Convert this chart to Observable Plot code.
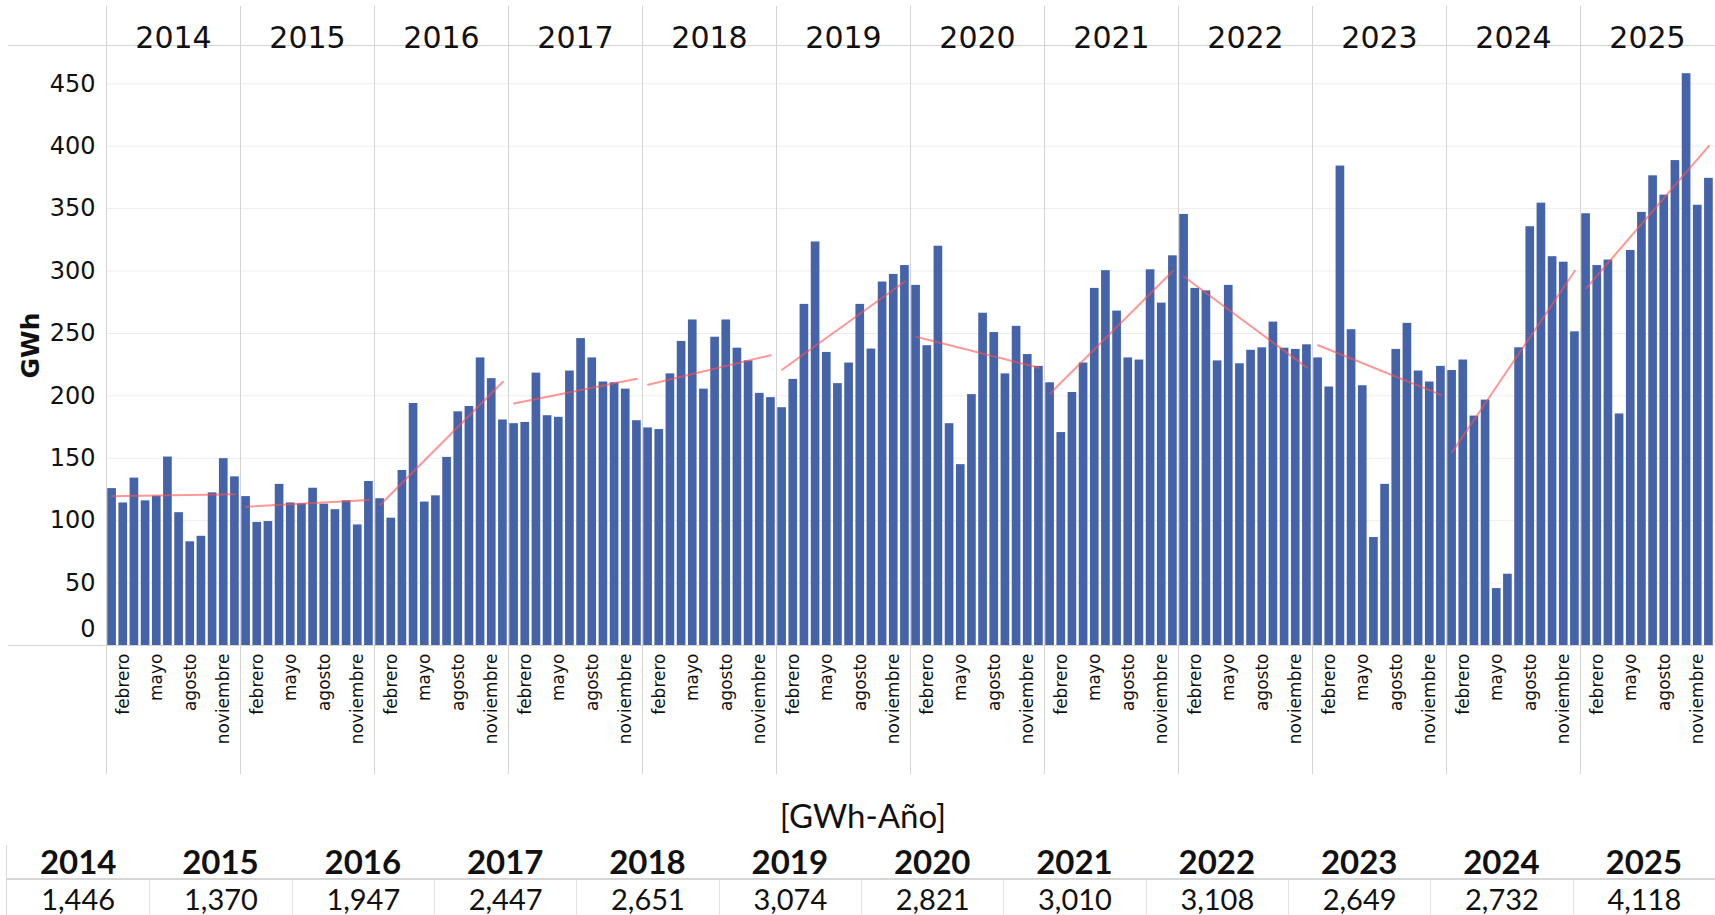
<!DOCTYPE html>
<html>
<head>
<meta charset="utf-8">
<script src="https://cdn.jsdelivr.net/npm/d3@7"></script>
<script src="https://cdn.jsdelivr.net/npm/@observablehq/plot@0.6"></script>
<style>
  html, body { margin: 0; padding: 0; background: #fff; }
  body { width: 1715px; height: 915px; overflow: hidden; position: relative; font-family: "DejaVu Sans", sans-serif; }
  #chart { position: absolute; left: 0; top: 0; }
  #ttl { position: absolute; left: 0; top: 795px; width: 1726px; height: 40px; line-height: 40px; text-align: center;
         font-family: Lato, "Open Sans", sans-serif; font-size: 33px; color: #111; }
  #tbl { position: absolute; left: 6px; top: 845px; width: 1708px; font-family: Lato, "Open Sans", sans-serif; color: #111;
         border-left: 1px solid #d6d6d6; border-right: 1px solid #d6d6d6; }
  .row { display: grid; grid-template-columns: repeat(12, 1fr); }
  .hdr { height: 33px; line-height: 33px; border-bottom: 2px solid #d6d6d6; }
  .hdr div { text-align: center; font-weight: 700; font-size: 33px; }
  .val { height: 38px; line-height: 38px; }
  .val div { text-align: center; font-size: 29px; border-left: 1px solid #e2e2e2; }
  .val div:first-child { border-left: none; }
</style>
</head>
<body>
<div id="chart"></div>
<div id="ttl">[GWh-Año]</div>
<div id="tbl"></div>
<script>
// ---- data ----
const years = [2014, 2015, 2016, 2017, 2018, 2019, 2020, 2021, 2022, 2023, 2024, 2025];
const monthNames = ["enero", "febrero", "marzo", "abril", "mayo", "junio", "julio", "agosto", "septiembre", "octubre", "noviembre", "diciembre"];
const tickMonths = [2, 5, 8, 11];
const yTicks = [50, 100, 150, 200, 250, 300, 350, 400, 450];
const yMax = 480.7;

const gwh2014 = [125.7, 114.2, 134.1, 115.9, 119.6, 151.0, 106.4, 83.1, 87.5, 122.3, 149.7, 135.1];
const gwh2015 = [119.3, 98.6, 99.3, 129.1, 114.2, 113.5, 126.0, 113.2, 108.8, 115.9, 96.6, 131.4];
const gwh2016 = [117.6, 102.0, 140.2, 193.9, 114.9, 119.9, 150.7, 187.2, 191.5, 230.4, 213.8, 180.7];
const gwh2017 = [177.7, 178.7, 218.2, 184.1, 182.8, 219.9, 245.9, 230.4, 211.1, 210.5, 205.4, 180.1];
const gwh2018 = [174.3, 173.0, 217.6, 243.6, 260.8, 205.4, 247.0, 260.8, 238.2, 228.0, 202.0, 198.6];
const gwh2019 = [190.5, 213.2, 273.3, 323.3, 234.8, 209.8, 226.3, 273.3, 237.5, 291.2, 297.3, 304.4];
const gwh2020 = [288.5, 240.2, 319.9, 177.7, 144.9, 201.0, 266.2, 250.7, 217.6, 255.7, 233.1, 223.6];
const gwh2021 = [210.5, 170.6, 202.7, 226.3, 286.1, 300.3, 267.9, 230.4, 228.7, 301.0, 274.3, 312.2];
const gwh2022 = [345.3, 286.1, 284.1, 228.0, 288.5, 225.7, 236.5, 238.5, 259.1, 238.2, 237.2, 240.9];
const gwh2023 = [230.4, 207.1, 384.1, 253.0, 208.1, 86.5, 129.1, 237.2, 258.1, 219.9, 211.1, 223.6];
const gwh2024 = [220.3, 228.7, 183.8, 196.6, 45.6, 57.1, 238.5, 335.5, 354.4, 311.5, 307.1, 251.3];
const gwh2025 = [345.9, 304.4, 308.8, 185.5, 316.5, 347.0, 376.3, 360.8, 388.5, 458.1, 352.7, 374.3];

const annualTotals = [1446, 1370, 1947, 2447, 2651, 3074, 2821, 3010, 3108, 2649, 2732, 4118];

// ---- build ----
const series = [gwh2014, gwh2015, gwh2016, gwh2017, gwh2018, gwh2019, gwh2020, gwh2021, gwh2022, gwh2023, gwh2024, gwh2025];
const data = years.flatMap((yr, i) => series[i].map((v, j) => ({year: yr, m: j + 1, v})));
const firstFacet = [{year: years[0], top: yMax, base: 0}];
const facetLabels = years.map(yr => ({year: yr}));

const gray = "#d4d4d4";

const chart = Plot.plot({
  width: 1715,
  height: 775,
  marginLeft: 104,
  marginRight: 0,
  marginTop: 45,
  marginBottom: 130,
  style: {fontFamily: "DejaVu Sans, sans-serif", color: "#111", background: "white", overflow: "visible"},
  fx: {domain: years, padding: 0, axis: null},
  x: {domain: [0.5, 12.5], axis: null},
  y: {domain: [0, yMax], axis: null},
  marks: [
    Plot.gridY(yTicks, {stroke: "#ededed", strokeOpacity: 1}),
    Plot.frame({anchor: "left", stroke: gray, insetTop: -39, insetBottom: -128}),
    Plot.frame({anchor: "top", stroke: gray}),
    Plot.ruleY(firstFacet, {fx: "year", y: "top", stroke: gray, insetLeft: -98}),
    Plot.rectY(data, {
      fx: "year",
      x1: d => d.m - 0.5,
      x2: d => d.m + 0.5,
      y: "v",
      insetLeft: 1.25,
      insetRight: 1.25,
      fill: "#4563a8"
    }),
    Plot.linearRegressionY(data, {fx: "year", x: "m", y: "v", ci: 0, stroke: "#ff5252", strokeOpacity: 0.6, strokeWidth: 2}),
    Plot.ruleY([0], {stroke: gray}),
    Plot.ruleY(firstFacet, {fx: "year", y: "base", stroke: gray, insetLeft: -98}),
    Plot.axisX({
      ticks: tickMonths,
      tickFormat: m => monthNames[m - 1],
      tickRotate: -90,
      tickSize: 0,
      tickPadding: 8,
      fontSize: 17,
      label: null
    }),
    Plot.axisY({ticks: yTicks, tickSize: 0, tickPadding: 11, fontSize: 24, label: null}),
    Plot.axisY({ticks: [0], tickSize: 0, tickPadding: 11, fontSize: 24, label: null, dy: -16}),
    Plot.text(firstFacet, {fx: "year", text: () => "GWh", frameAnchor: "left", textAnchor: "middle", rotate: -90, dx: -76, fontSize: 25, fontWeight: "bold"}),
    Plot.text(facetLabels, {fx: "year", text: d => String(d.year), frameAnchor: "top", dy: -19, fontSize: 30})
  ]
});
document.getElementById("chart").appendChild(chart);

// ---- annual table ----
const tbl = d3.select("#tbl");
tbl.append("div").attr("class", "row hdr").selectAll("div").data(years).join("div").text(d => d);
tbl.append("div").attr("class", "row val").selectAll("div").data(annualTotals).join("div").text(d => d3.format(",")(d));
</script>
</body>
</html>
